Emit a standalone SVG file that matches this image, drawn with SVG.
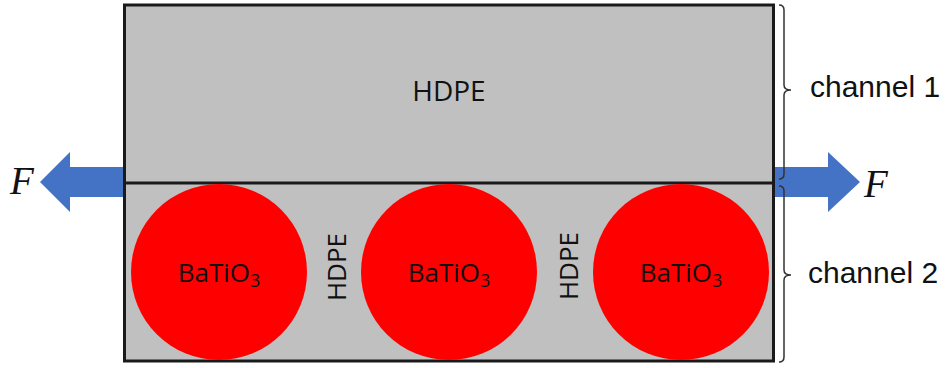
<svg xmlns="http://www.w3.org/2000/svg" width="945" height="368" viewBox="0 0 945 368">
<style>
.arrow{fill:#4472c4}
.box{fill:#c0c0c0;stroke:#1a1a1a;stroke-width:3}
.part{fill:#ff0000}
.lbl{font-family:"Open Sans","Liberation Sans",sans-serif;fill:#111;font-size:26px}
.big{font-size:28px}
.f{font-family:"Liberation Serif",serif;font-style:italic;font-size:39px;fill:#111}
.brace{fill:none;stroke:#333;stroke-width:1.5}
.ch{font-family:"Liberation Sans",sans-serif;font-size:30px;fill:#111}
</style>
<rect width="945" height="368" fill="#ffffff"/>
<g id="connectors">
<polygon id="force-left" class="arrow" points="124,167 70,167 70,152 40,182 70,212 70,197 124,197"/>
<polygon id="force-right" class="arrow" points="773,167 828,167 828,152 860,182 828,212 828,197 773,197"/>
</g>
<g id="matrix">
<rect class="box" x="124.5" y="5" width="649" height="356"/>
<line x1="124" y1="183" x2="775" y2="183" stroke="#1a1a1a" stroke-width="3"/>
</g>
<g id="channel1-hdpe"><text class="lbl big" x="449" y="101" text-anchor="middle">HDPE</text></g>
<g id="particle1">
<circle class="part" cx="219" cy="272" r="88"/>
<text class="lbl" x="219" y="282" text-anchor="middle">BaTiO<tspan font-size="18" dy="5">3</tspan></text>
</g>
<g id="particle2">
<circle class="part" cx="449" cy="272" r="88"/>
<text class="lbl" x="449" y="282" text-anchor="middle">BaTiO<tspan font-size="18" dy="5">3</tspan></text>
</g>
<g id="particle3">
<circle class="part" cx="681" cy="272" r="88"/>
<text class="lbl" x="681" y="282" text-anchor="middle">BaTiO<tspan font-size="18" dy="5">3</tspan></text>
</g>
<g id="hdpe-gap1"><text class="lbl" transform="translate(346,267) rotate(-90)" text-anchor="middle">HDPE</text></g>
<g id="hdpe-gap2"><text class="lbl" transform="translate(578,266) rotate(-90)" text-anchor="middle">HDPE</text></g>
<g id="force-labels">
<text class="f" x="10" y="194">F</text>
<text class="f" x="864" y="197">F</text>
</g>
<g id="channel1">
<path class="brace" d="M779,5 Q784,5 784,10 L784,85 Q784,90 791,90 Q784,90 784,95 L784,174 Q784,179 779,179"/>
<text class="ch" x="810" y="97">channel 1</text>
</g>
<g id="channel2">
<path class="brace" d="M779,186 Q784,186 784,191 L784,270 Q784,275 791,275 Q784,275 784,280 L784,357 Q784,362 779,362"/>
<text class="ch" x="808" y="283">channel 2</text>
</g>
</svg>
